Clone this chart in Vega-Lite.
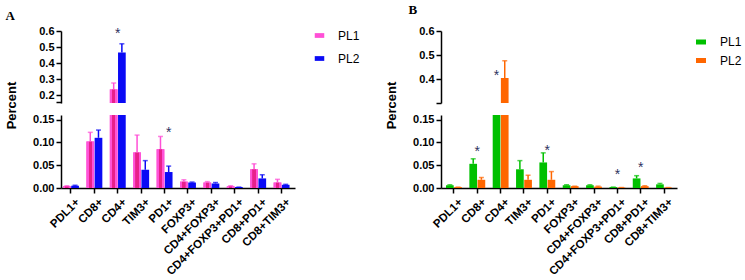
{
  "$schema": "https://vega.github.io/schema/vega-lite/v6.json",
  "background": "white",
  "padding": {"left": 5, "top": 4, "right": 0, "bottom": 0},
  "spacing": 25,
  "align": "none",
  "datasets": {
    "A": [
      {"cat": "PDL1+", "series": "PL1", "value": 0.004, "err": 0.005},
      {"cat": "PDL1+", "series": "PL2", "value": 0.005, "err": 0.006},
      {"cat": "CD8+", "series": "PL1", "value": 0.102, "err": 0.122},
      {"cat": "CD8+", "series": "PL2", "value": 0.110, "err": 0.127},
      {"cat": "CD4+", "series": "PL1", "value": 0.235, "err": 0.275},
      {"cat": "CD4+", "series": "PL2", "value": 0.466, "err": 0.52},
      {"cat": "TIM3+", "series": "PL1", "value": 0.078, "err": 0.116},
      {"cat": "TIM3+", "series": "PL2", "value": 0.040, "err": 0.060},
      {"cat": "PD1+", "series": "PL1", "value": 0.085, "err": 0.113},
      {"cat": "PD1+", "series": "PL2", "value": 0.035, "err": 0.048},
      {"cat": "FOXP3+", "series": "PL1", "value": 0.014, "err": 0.018},
      {"cat": "FOXP3+", "series": "PL2", "value": 0.012, "err": 0.013},
      {"cat": "CD4+FOXP3+", "series": "PL1", "value": 0.012, "err": 0.014},
      {"cat": "CD4+FOXP3+", "series": "PL2", "value": 0.010, "err": 0.012},
      {"cat": "CD4+FOXP3+PD1+", "series": "PL1", "value": 0.004, "err": 0.005},
      {"cat": "CD4+FOXP3+PD1+", "series": "PL2", "value": 0.002, "err": 0.002},
      {"cat": "CD8+PD1+", "series": "PL1", "value": 0.041, "err": 0.053},
      {"cat": "CD8+PD1+", "series": "PL2", "value": 0.021, "err": 0.029},
      {"cat": "CD8+TIM3+", "series": "PL1", "value": 0.012, "err": 0.019},
      {"cat": "CD8+TIM3+", "series": "PL2", "value": 0.007, "err": 0.008}
    ],
    "B": [
      {"cat": "PDL1+", "series": "PL1", "value": 0.006, "err": 0.007},
      {"cat": "PDL1+", "series": "PL2", "value": 0.002, "err": 0.002},
      {"cat": "CD8+", "series": "PL1", "value": 0.053, "err": 0.064},
      {"cat": "CD8+", "series": "PL2", "value": 0.018, "err": 0.023},
      {"cat": "CD4+", "series": "PL1", "value": 0.2, "err": 0.22},
      {"cat": "CD4+", "series": "PL2", "value": 0.404, "err": 0.476},
      {"cat": "TIM3+", "series": "PL1", "value": 0.041, "err": 0.060},
      {"cat": "TIM3+", "series": "PL2", "value": 0.018, "err": 0.028},
      {"cat": "PD1+", "series": "PL1", "value": 0.056, "err": 0.077},
      {"cat": "PD1+", "series": "PL2", "value": 0.018, "err": 0.036},
      {"cat": "FOXP3+", "series": "PL1", "value": 0.006, "err": 0.007},
      {"cat": "FOXP3+", "series": "PL2", "value": 0.004, "err": 0.004},
      {"cat": "CD4+FOXP3+", "series": "PL1", "value": 0.006, "err": 0.007},
      {"cat": "CD4+FOXP3+", "series": "PL2", "value": 0.003, "err": 0.004},
      {"cat": "CD4+FOXP3+PD1+", "series": "PL1", "value": 0.002, "err": 0.002},
      {"cat": "CD4+FOXP3+PD1+", "series": "PL2", "value": 0.001, "err": 0.001},
      {"cat": "CD8+PD1+", "series": "PL1", "value": 0.021, "err": 0.027},
      {"cat": "CD8+PD1+", "series": "PL2", "value": 0.004, "err": 0.005},
      {"cat": "CD8+TIM3+", "series": "PL1", "value": 0.008, "err": 0.010},
      {"cat": "CD8+TIM3+", "series": "PL2", "value": 0.001, "err": 0.001}
    ],
    "sAu": [{"cat": "CD4+", "value": 0.6}],
    "sAl": [{"cat": "PD1+", "series": "PL2", "value": 0.127}],
    "sBu": [{"cat": "CD4+", "series": "PL1", "value": 0.425}],
    "sBl": [
      {"cat": "CD8+", "value": 0.085},
      {"cat": "PD1+", "value": 0.088},
      {"cat": "CD4+FOXP3+PD1+", "value": 0.036},
      {"cat": "CD8+PD1+", "value": 0.051}
    ]
  },
  "hconcat": [
    {
      "title": {"text": "A", "anchor": "start", "frame": "bounds", "offset": 2, "font": "Liberation Serif", "fontSize": 13, "fontWeight": "bold", "color": "#000"},
      "spacing": 12,
      "bounds": "flush",
      "resolve": {"scale": {"color": "independent", "x": "independent", "y": "independent", "xOffset": "independent"}, "legend": {"color": "independent"}},
      "vconcat": [
        {
          "width": 234, "height": 72,
          "data": {"name": "A"},
          "encoding": {"x": {"field": "cat", "type": "nominal", "sort": null, "scale": {"domain": ["PDL1+", "CD8+", "CD4+", "TIM3+", "PD1+", "FOXP3+", "CD4+FOXP3+", "CD4+FOXP3+PD1+", "CD8+PD1+", "CD8+TIM3+"], "paddingInner": 0.32, "paddingOuter": 0.16, "align": 0.27}, "axis": null}},
          "layer": [
            {"mark": {"type": "bar", "clip": true},
             "encoding": {
               "xOffset": {"field": "series", "type": "nominal", "scale": {"domain": ["PL1", "PL2"], "paddingInner": 0.06}},
               "y": {"field": "value", "type": "quantitative", "scale": {"domain": [0.157, 0.6]}, "axis": {"values": [0.157, 0.2, 0.3, 0.4, 0.5, 0.6], "labelExpr": "datum.value < 0.18 ? '' : format(datum.value, '.1f')", "title": null, "labelOverlap": false}},
               "y2": {"datum": 0},
               "color": {"field": "series", "type": "nominal", "scale": {"domain": ["PL1", "PL2"], "range": ["#FF4FD6", "#0A0AF5"]},
                 "legend": {"title": null, "orient": "none", "legendX": 249, "legendY": -5, "padding": 0, "symbolType": "M-0.5,-0.25H0.5V0.25H-0.5Z", "symbolSize": 361, "symbolStrokeWidth": 0, "labelFont": "Liberation Sans", "labelFontSize": 12, "labelColor": "#000", "labelOffset": 9, "rowPadding": 7}}
             }},
            {"transform": [{"filter": "datum.series === 'PL1'"}],
             "mark": {"type": "bar", "clip": true, "fill": {"gradient": "linear", "x1": 0, "x2": 1, "y1": 0, "y2": 0, "stops": [{"offset": 0, "color": "#FF52D8"}, {"offset": 0.27, "color": "#FF52D8"}, {"offset": 0.3, "color": "#E8208A"}, {"offset": 0.7, "color": "#E8208A"}, {"offset": 0.73, "color": "#FF52D8"}, {"offset": 1, "color": "#FF52D8"}]}},
             "encoding": {"xOffset": {"field": "series", "type": "nominal"}, "y": {"field": "value", "type": "quantitative", "axis": {"values": [0.157, 0.2, 0.3, 0.4, 0.5, 0.6], "labelExpr": "datum.value < 0.18 ? '' : format(datum.value, '.1f')", "title": null, "labelOverlap": false}}, "y2": {"datum": 0}}},
            {"mark": {"type": "rule", "clip": true, "strokeWidth": 1.5},
             "encoding": {"xOffset": {"field": "series", "type": "nominal"}, "y": {"field": "value", "type": "quantitative", "axis": {"values": [0.157, 0.2, 0.3, 0.4, 0.5, 0.6], "labelExpr": "datum.value < 0.18 ? '' : format(datum.value, '.1f')", "title": null, "labelOverlap": false}}, "y2": {"field": "err"}, "color": {"field": "series", "type": "nominal", "legend": null}}},
            {"mark": {"type": "tick", "clip": true, "size": 5, "thickness": 1.5},
             "encoding": {"xOffset": {"field": "series", "type": "nominal"}, "y": {"field": "err", "type": "quantitative", "axis": {"values": [0.157, 0.2, 0.3, 0.4, 0.5, 0.6], "labelExpr": "datum.value < 0.18 ? '' : format(datum.value, '.1f')", "title": null, "labelOverlap": false}}, "color": {"field": "series", "type": "nominal", "legend": null}}},
            {"data": {"name": "sAu"},
             "mark": {"type": "text", "text": "*", "font": "Liberation Sans", "fontSize": 14, "color": "#2D3160", "baseline": "middle", "dy": 3},
             "encoding": {"y": {"field": "value", "type": "quantitative", "axis": {"values": [0.157, 0.2, 0.3, 0.4, 0.5, 0.6], "labelExpr": "datum.value < 0.18 ? '' : format(datum.value, '.1f')", "title": null, "labelOverlap": false}}}}
          ]
        },
        {
          "width": 234, "height": 73,
          "data": {"name": "A"},
          "encoding": {"x": {"field": "cat", "type": "nominal", "sort": null, "scale": {"domain": ["PDL1+", "CD8+", "CD4+", "TIM3+", "PD1+", "FOXP3+", "CD4+FOXP3+", "CD4+FOXP3+PD1+", "CD8+PD1+", "CD8+TIM3+"], "paddingInner": 0.32, "paddingOuter": 0.16, "align": 0.27}, "axis": {"title": null, "labelAngle": -45, "labelOverlap": false, "labelPadding": 3, "labelOffset": 3, "labelFontSize": 11.5}}},
          "layer": [
            {"mark": {"type": "bar", "clip": true},
             "encoding": {
               "xOffset": {"field": "series", "type": "nominal", "scale": {"domain": ["PL1", "PL2"], "paddingInner": 0.06}},
               "y": {"field": "value", "type": "quantitative", "scale": {"domain": [0, 0.15]}, "axis": {"values": [0, 0.05, 0.1, 0.15], "format": ".2f", "title": "Percent", "titlePadding": 14, "titleY": -10, "titleAlign": "center", "labelOverlap": false}},
               "y2": {"datum": 0},
               "color": {"field": "series", "type": "nominal", "scale": {"domain": ["PL1", "PL2"], "range": ["#FF4FD6", "#0A0AF5"]}, "legend": null}
             }},
            {"transform": [{"filter": "datum.series === 'PL1'"}],
             "mark": {"type": "bar", "clip": true, "fill": {"gradient": "linear", "x1": 0, "x2": 1, "y1": 0, "y2": 0, "stops": [{"offset": 0, "color": "#FF52D8"}, {"offset": 0.27, "color": "#FF52D8"}, {"offset": 0.3, "color": "#E8208A"}, {"offset": 0.7, "color": "#E8208A"}, {"offset": 0.73, "color": "#FF52D8"}, {"offset": 1, "color": "#FF52D8"}]}},
             "encoding": {"xOffset": {"field": "series", "type": "nominal"}, "y": {"field": "value", "type": "quantitative", "axis": {"values": [0, 0.05, 0.1, 0.15], "format": ".2f", "title": "Percent", "titlePadding": 14, "titleY": -10, "titleAlign": "center", "labelOverlap": false}}, "y2": {"datum": 0}}},
            {"mark": {"type": "rule", "clip": true, "strokeWidth": 1.5},
             "encoding": {"xOffset": {"field": "series", "type": "nominal"}, "y": {"field": "value", "type": "quantitative", "axis": {"values": [0, 0.05, 0.1, 0.15], "format": ".2f", "title": "Percent", "titlePadding": 14, "titleY": -10, "titleAlign": "center", "labelOverlap": false}}, "y2": {"field": "err"}, "color": {"field": "series", "type": "nominal", "legend": null}}},
            {"mark": {"type": "tick", "clip": true, "size": 5, "thickness": 1.5},
             "encoding": {"xOffset": {"field": "series", "type": "nominal"}, "y": {"field": "err", "type": "quantitative", "axis": {"values": [0, 0.05, 0.1, 0.15], "format": ".2f", "title": "Percent", "titlePadding": 14, "titleY": -10, "titleAlign": "center", "labelOverlap": false}}, "color": {"field": "series", "type": "nominal", "legend": null}}},
            {"data": {"name": "sAl"},
             "mark": {"type": "text", "text": "*", "font": "Liberation Sans", "fontSize": 14, "color": "#2D3160", "baseline": "middle", "dy": 3},
             "encoding": {"xOffset": {"field": "series", "type": "nominal"}, "y": {"field": "value", "type": "quantitative", "axis": {"values": [0, 0.05, 0.1, 0.15], "format": ".2f", "title": "Percent", "titlePadding": 14, "titleY": -10, "titleAlign": "center", "labelOverlap": false}}}}
          ]
        }
      ]
    },
    {
      "title": {"text": "B", "anchor": "start", "frame": "bounds", "offset": 8, "dx": 23, "font": "Liberation Serif", "fontSize": 13, "fontWeight": "bold", "color": "#000"},
      "spacing": 12,
      "bounds": "flush",
      "resolve": {"scale": {"color": "independent", "x": "independent", "y": "independent", "xOffset": "independent"}, "legend": {"color": "independent"}},
      "vconcat": [
        {
          "width": 236, "height": 72,
          "data": {"name": "B"},
          "encoding": {"x": {"field": "cat", "type": "nominal", "sort": null, "scale": {"domain": ["PDL1+", "CD8+", "CD4+", "TIM3+", "PD1+", "FOXP3+", "CD4+FOXP3+", "CD4+FOXP3+PD1+", "CD8+PD1+", "CD8+TIM3+"], "paddingInner": 0.32, "paddingOuter": 0.215}, "axis": null}},
          "layer": [
            {"mark": {"type": "bar", "clip": true},
             "encoding": {
               "xOffset": {"field": "series", "type": "nominal", "scale": {"domain": ["PL1", "PL2"], "paddingInner": 0.06}},
               "y": {"field": "value", "type": "quantitative", "scale": {"domain": [0.3, 0.6]}, "axis": {"values": [0.3, 0.4, 0.5, 0.6], "labelExpr": "datum.value < 0.35 ? '' : format(datum.value, '.1f')", "title": null, "labelOverlap": false}},
               "y2": {"datum": 0},
               "color": {"field": "series", "type": "nominal", "scale": {"domain": ["PL1", "PL2"], "range": ["#00C000", "#FF6600"]},
                 "legend": {"title": null, "orient": "none", "legendX": 250, "legendY": 1, "padding": 0, "symbolType": "M-0.5,-0.25H0.5V0.25H-0.5Z", "symbolSize": 400, "symbolStrokeWidth": 0, "labelFont": "Liberation Sans", "labelFontSize": 12, "labelColor": "#000", "labelOffset": 9, "rowPadding": 2.5}}
             }},
            {"mark": {"type": "rule", "clip": true, "strokeWidth": 1.5},
             "encoding": {"xOffset": {"field": "series", "type": "nominal"}, "y": {"field": "value", "type": "quantitative", "axis": {"values": [0.3, 0.4, 0.5, 0.6], "labelExpr": "datum.value < 0.35 ? '' : format(datum.value, '.1f')", "title": null, "labelOverlap": false}}, "y2": {"field": "err"}, "color": {"field": "series", "type": "nominal", "legend": null}}},
            {"mark": {"type": "tick", "clip": true, "size": 5, "thickness": 1.5},
             "encoding": {"xOffset": {"field": "series", "type": "nominal"}, "y": {"field": "err", "type": "quantitative", "axis": {"values": [0.3, 0.4, 0.5, 0.6], "labelExpr": "datum.value < 0.35 ? '' : format(datum.value, '.1f')", "title": null, "labelOverlap": false}}, "color": {"field": "series", "type": "nominal", "legend": null}}},
            {"data": {"name": "sBu"},
             "mark": {"type": "text", "text": "*", "font": "Liberation Sans", "fontSize": 14, "color": "#2D3160", "baseline": "middle", "dy": 3},
             "encoding": {"xOffset": {"field": "series", "type": "nominal"}, "y": {"field": "value", "type": "quantitative", "axis": {"values": [0.3, 0.4, 0.5, 0.6], "labelExpr": "datum.value < 0.35 ? '' : format(datum.value, '.1f')", "title": null, "labelOverlap": false}}}}
          ]
        },
        {
          "width": 236, "height": 73,
          "data": {"name": "B"},
          "encoding": {"x": {"field": "cat", "type": "nominal", "sort": null, "scale": {"domain": ["PDL1+", "CD8+", "CD4+", "TIM3+", "PD1+", "FOXP3+", "CD4+FOXP3+", "CD4+FOXP3+PD1+", "CD8+PD1+", "CD8+TIM3+"], "paddingInner": 0.32, "paddingOuter": 0.215}, "axis": {"title": null, "labelAngle": -45, "labelOverlap": false, "labelPadding": 3, "labelOffset": 3, "labelFontSize": 11.5}}},
          "layer": [
            {"mark": {"type": "bar", "clip": true},
             "encoding": {
               "xOffset": {"field": "series", "type": "nominal", "scale": {"domain": ["PL1", "PL2"], "paddingInner": 0.06}},
               "y": {"field": "value", "type": "quantitative", "scale": {"domain": [0, 0.15]}, "axis": {"values": [0, 0.05, 0.1, 0.15], "format": ".2f", "title": "Percent", "titlePadding": 14, "titleY": -10, "titleAlign": "center", "labelOverlap": false}},
               "y2": {"datum": 0},
               "color": {"field": "series", "type": "nominal", "scale": {"domain": ["PL1", "PL2"], "range": ["#00C000", "#FF6600"]}, "legend": null}
             }},
            {"mark": {"type": "rule", "clip": true, "strokeWidth": 1.5},
             "encoding": {"xOffset": {"field": "series", "type": "nominal"}, "y": {"field": "value", "type": "quantitative", "axis": {"values": [0, 0.05, 0.1, 0.15], "format": ".2f", "title": "Percent", "titlePadding": 14, "titleY": -10, "titleAlign": "center", "labelOverlap": false}}, "y2": {"field": "err"}, "color": {"field": "series", "type": "nominal", "legend": null}}},
            {"mark": {"type": "tick", "clip": true, "size": 5, "thickness": 1.5},
             "encoding": {"xOffset": {"field": "series", "type": "nominal"}, "y": {"field": "err", "type": "quantitative", "axis": {"values": [0, 0.05, 0.1, 0.15], "format": ".2f", "title": "Percent", "titlePadding": 14, "titleY": -10, "titleAlign": "center", "labelOverlap": false}}, "color": {"field": "series", "type": "nominal", "legend": null}}},
            {"data": {"name": "sBl"},
             "mark": {"type": "text", "text": "*", "font": "Liberation Sans", "fontSize": 14, "color": "#2D3160", "baseline": "middle", "dy": 3},
             "encoding": {"y": {"field": "value", "type": "quantitative", "axis": {"values": [0, 0.05, 0.1, 0.15], "format": ".2f", "title": "Percent", "titlePadding": 14, "titleY": -10, "titleAlign": "center", "labelOverlap": false}}}}
          ]
        }
      ]
    }
  ],
  "resolve": {"scale": {"color": "independent", "x": "independent", "y": "independent", "xOffset": "independent"}, "legend": {"color": "independent"}},
  "config": {
    "view": {"stroke": null},
    "axis": {"domainColor": "#000", "domainWidth": 1.5, "tickColor": "#000", "tickWidth": 1.5, "tickSize": 5, "labelFont": "Liberation Sans", "labelFontWeight": "bold", "labelFontSize": 11, "labelColor": "#000", "grid": false, "labelPadding": 2, "labelOverlap": false, "titleFont": "Liberation Sans", "titleFontWeight": "bold", "titleFontSize": 13, "titleColor": "#000"},
    "axisY": {"labelOverlap": false}
  }
}
